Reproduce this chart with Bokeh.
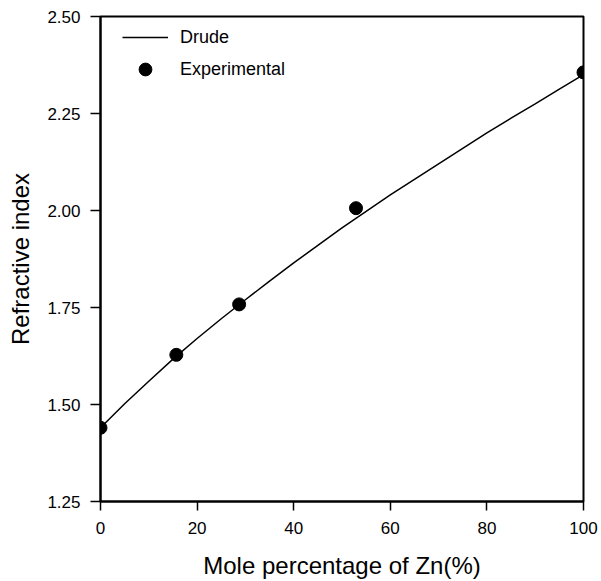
from bokeh.plotting import figure
from bokeh.models import Range1d, FixedTicker, Legend, LegendItem
from bokeh.embed import file_html
from bokeh.resources import INLINE

# Data
drude_x = [0, 5, 10, 15, 20, 25, 30, 35, 40, 45, 50,
           55, 60, 65, 70, 75, 80, 85, 90, 95, 100]
drude_y = [1.44, 1.502, 1.56, 1.617, 1.67, 1.721, 1.77, 1.818, 1.865, 1.91, 1.955,
           1.998, 2.04, 2.08, 2.12, 2.16, 2.20, 2.238, 2.275, 2.313, 2.35]
exp_x = [0, 15.7, 28.7, 52.9, 100]
exp_y = [1.44, 1.628, 1.758, 2.006, 2.356]
x_ticks = [0, 20, 40, 60, 80, 100]
y_ticks = [1.25, 1.50, 1.75, 2.00, 2.25, 2.50]
x_title = "Mole percentage of Zn(%)"
y_title = "Refractive index"

FONT = "Liberation Sans"

p = figure(width=601, height=581, output_backend="svg", toolbar_location=None,
           x_range=Range1d(0, 100), y_range=Range1d(1.25, 2.50),
           min_border_left=100, min_border_right=18, min_border_top=16,
           min_border_bottom=80)
p.grid.visible = False
p.background_fill_color = "white"
p.border_fill_color = "white"
p.outline_line_color = "black"
p.outline_line_width = 2

line_r = p.line(drude_x, drude_y, line_color="black", line_width=1.5)
pts_r = p.scatter(exp_x, exp_y, size=13, fill_color="black", line_color="black")

for ax in (p.xaxis[0], p.yaxis[0]):
    ax.axis_line_width = 2
    ax.axis_line_color = "black"
    ax.major_tick_line_width = 1.5
    ax.major_tick_in = 0
    ax.minor_tick_line_color = None
    ax.major_label_text_font = FONT
    ax.major_label_text_font_size = "17px"
    ax.major_label_text_color = "black"
    ax.axis_label_text_font = FONT
    ax.axis_label_text_font_size = "24px"
    ax.axis_label_text_font_style = "normal"
    ax.axis_label_text_color = "black"

p.xaxis[0].ticker = FixedTicker(ticks=x_ticks)
p.yaxis[0].ticker = FixedTicker(ticks=y_ticks)
p.xaxis[0].major_tick_out = 9
p.yaxis[0].major_tick_out = 10
p.xaxis[0].major_label_standoff = 11
p.yaxis[0].major_label_standoff = 10
p.xaxis[0].axis_label = x_title
p.yaxis[0].axis_label = y_title
p.xaxis[0].axis_label_standoff = 15
p.yaxis[0].axis_label_standoff = 10
p.xaxis[0].major_label_overrides = {v: str(v) for v in x_ticks}
p.yaxis[0].major_label_overrides = {v: f"{v:.2f}" for v in y_ticks}

legend = Legend(items=[LegendItem(label="Drude", renderers=[line_r]),
                       LegendItem(label="Experimental", renderers=[pts_r])],
                location=(22, 416), padding=0, margin=0, spacing=0,
                glyph_width=46, glyph_height=32, label_height=32,
                label_standoff=12, label_text_font=FONT,
                label_text_font_size="18px", label_text_color="black",
                border_line_color=None, background_fill_alpha=0)
p.add_layout(legend)

open("out.html", "w").write(file_html(p, INLINE))
